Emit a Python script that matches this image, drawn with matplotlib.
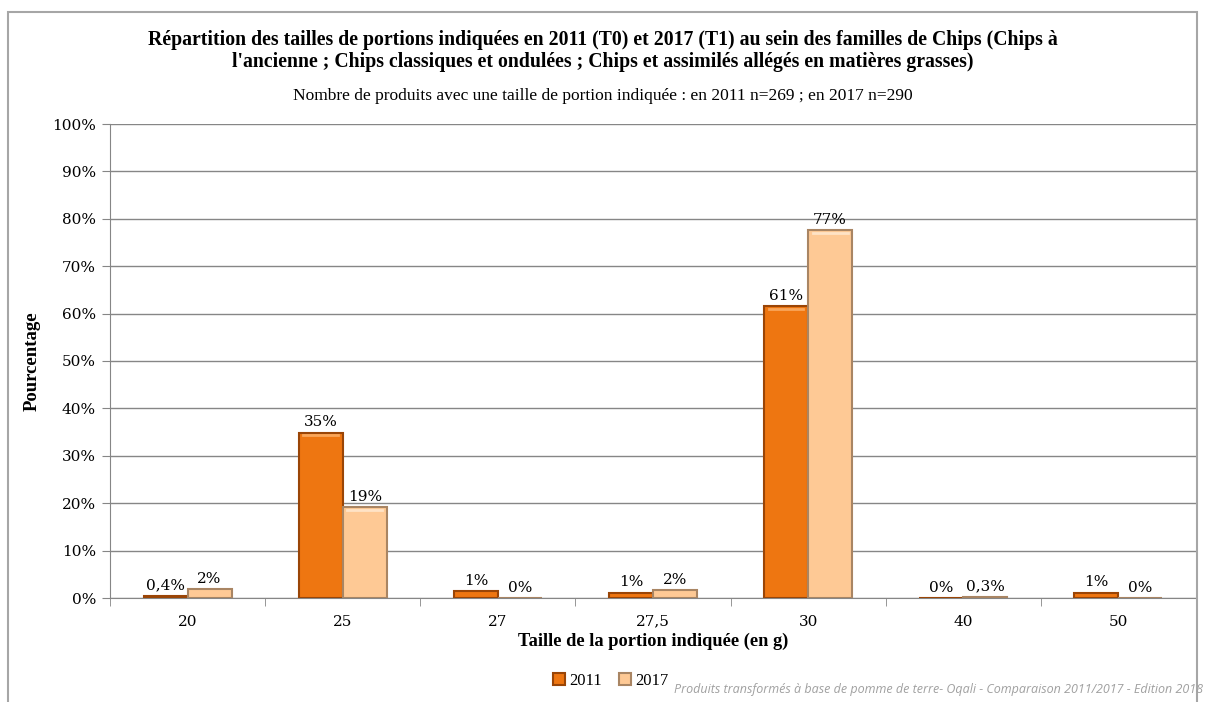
import numpy as np
import matplotlib.pyplot as plt
from matplotlib.patches import Rectangle

# data
categories = ['20', '25', '27', '27,5', '30', '40', '50']
val_2011 = [0.4, 34.9, 1.4, 1.1, 61.6, 0.0, 1.1]
val_2017 = [1.9, 19.2, 0.0, 1.7, 77.6, 0.3, 0.0]
lab_2011 = ['0,4%', '35%', '1%', '1%', '61%', '0%', '1%']
lab_2017 = ['2%', '19%', '0%', '2%', '77%', '0,3%', '0%']
yticks = np.arange(0, 101, 10)

serif = 'Liberation Serif'
serif2 = 'DejaVu Serif'
col11 = '#EE7611'
edge11 = '#9A4506'
col17 = '#FEC995'
edge17 = '#A98563'

fig = plt.figure(figsize=(12.06, 7.02), dpi=100)
fig.patches.append(Rectangle((8/1206, -0.01), 1189/1206, 1 - 12/702 + 0.01,
                             transform=fig.transFigure, fill=False,
                             edgecolor='#A6A6A6', linewidth=1.5))

ax = fig.add_axes([110/1206, 1 - 598/702, 1086/1206, 474/702])
x = np.arange(len(categories))
w = 0.284

b1 = ax.bar(x - w/2, val_2011, w, color=col11, edgecolor=edge11, linewidth=1.5,
            label='2011', zorder=3)
b2 = ax.bar(x + w/2, val_2017, w, color=col17, edgecolor=edge17, linewidth=1.5,
            label='2017', zorder=3)

# light highlight near the top of bars (bevel look)
for bars, hl in ((b1, '#F9A65A'), (b2, '#FFE3C6')):
    for r in bars:
        h = r.get_height()
        if h > 3:
            ax.plot([r.get_x() + 0.03, r.get_x() + r.get_width() - 0.03],
                    [h - 0.6, h - 0.6], color=hl, lw=2, zorder=4)

for xi, v, t in zip(x - w/2, val_2011, lab_2011):
    ax.text(xi, v + 0.7, t, ha='center', va='bottom', family=serif2, fontsize=11)
for xi, v, t in zip(x + w/2, val_2017, lab_2017):
    ax.text(xi, v + 0.7, t, ha='center', va='bottom', family=serif2, fontsize=11)

ax.set_xlim(-0.5, len(categories) - 0.5)
ax.set_ylim(0, 100)
ax.set_yticks(yticks)
ax.set_yticklabels([f'{t}%' for t in yticks], family=serif2, fontsize=11)
ax.set_xticks(x)
ax.set_xticklabels(categories, family=serif2, fontsize=11)
ax.set_xticks(np.arange(-0.5, len(categories)), minor=True)
ax.tick_params(axis='x', which='major', length=0, pad=12)
ax.tick_params(axis='x', which='minor', length=6, color='#868686')
ax.tick_params(axis='y', length=6, color='#868686', pad=4)
ax.grid(axis='y', color='#868686', linewidth=1, zorder=0)
for s in ('top', 'right'):
    ax.spines[s].set_visible(False)
for s in ('left', 'bottom'):
    ax.spines[s].set_color('#868686')

ax.set_ylabel('Pourcentage', family=serif, fontsize=13.5, fontweight='bold', labelpad=8)
ax.set_xlabel('Taille de la portion indiquée (en g)', family=serif, fontsize=13.2,
              fontweight='bold', labelpad=3)

fig.text(0.5, 1 - 51/702, "Répartition des tailles de portions indiquées en 2011 (T0) et 2017 (T1) au sein des familles de Chips (Chips à\n"
         "l'ancienne ; Chips classiques et ondulées ; Chips et assimilés allégés en matières grasses)",
         ha='center', va='center', family=serif, fontsize=14.2, fontweight='bold',
         linespacing=1.15)
fig.text(0.5, 1 - 96/702, 'Nombre de produits avec une taille de portion indiquée : en 2011 n=269 ; en 2017 n=290',
         ha='center', va='center', family=serif, fontsize=12.5)

ax.legend(loc='center', bbox_to_anchor=(611/1206, 1 - 681/702),
          bbox_transform=fig.transFigure, ncol=2, frameon=False,
          prop={'family': serif, 'size': 12}, handlelength=0.7, handleheight=0.7,
          handletextpad=0.3, columnspacing=1.0)

fig.text(1203/1206, 1 - 689/702,
         'Produits transformés à base de pomme de terre- Oqali - Comparaison 2011/2017 - Edition 2018',
         ha='right', va='center', family='Open Sans', style='italic', fontsize=9,
         color='#A0A0A0')

fig.savefig('out.png', dpi=100)
